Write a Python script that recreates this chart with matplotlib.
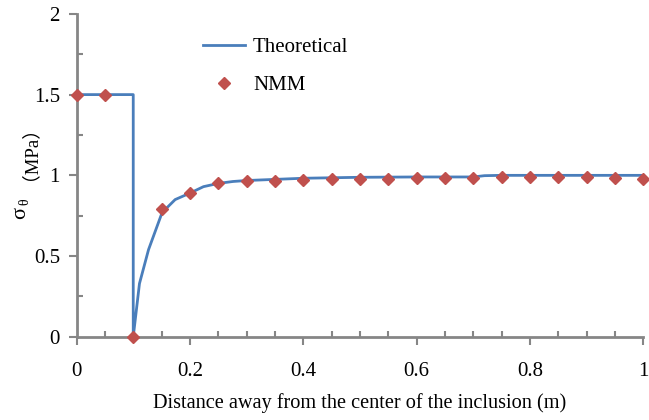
"""Hoop stress around a circular inclusion: theoretical curve vs NMM results."""

import matplotlib

matplotlib.use("Agg")
import matplotlib.pyplot as plt
from matplotlib.ticker import MultipleLocator

# theoretical solution
theory_x = [0.0, 0.1, 0.1, 0.111, 0.127, 0.151, 0.174, 0.2, 0.224, 0.25, 0.276,
            0.3, 0.35, 0.4, 0.45, 0.5, 0.6, 0.7, 0.72, 0.75, 0.8, 0.9, 1.0]
theory_y = [1.5, 1.5, 0.0, 0.33, 0.54, 0.77, 0.85, 0.89, 0.93, 0.95, 0.962,
            0.968, 0.975, 0.982, 0.985, 0.988, 0.99, 0.99, 0.998, 1.0, 1.0, 1.0, 1.0]

# NMM sample points every 0.05 m
nmm_x = [0.0, 0.05, 0.1, 0.15, 0.2, 0.25, 0.3, 0.35, 0.4, 0.45, 0.5,
         0.55, 0.6, 0.65, 0.7, 0.75, 0.8, 0.85, 0.9, 0.95, 1.0]
nmm_y = [1.5, 1.5, 0.0, 0.79, 0.89, 0.955, 0.962, 0.968, 0.972, 0.976, 0.98,
         0.98, 0.982, 0.982, 0.982, 0.99, 0.99, 0.99, 0.99, 0.985, 0.98]

x_ticks = [0, 0.2, 0.4, 0.6, 0.8, 1.0]
x_tick_labels = ["0", "0.2", "0.4", "0.6", "0.8", "1"]
y_ticks = [0, 0.5, 1.0, 1.5, 2.0]
y_tick_labels = ["0", "0.5", "1", "1.5", "2"]

LINE_BLUE = "#4A7EBB"
MARKER_RED = "#C0504D"
AXIS_GREY = "#868686"
W, H = 649, 420

# the full-width brackets in the y label fall back to the CJK family
plt.rcParams["font.family"] = ["Liberation Serif", "Noto Sans CJK SC", "DejaVu Sans"]

fig = plt.figure(figsize=(W / 100, H / 100), dpi=100)
ax = fig.add_axes([0.118, 0.198, 0.873, 0.769])

ax.plot(theory_x, theory_y, color=LINE_BLUE, lw=2.0, label="Theoretical", zorder=2)
ax.plot(nmm_x, nmm_y, ls="none", marker="D", ms=6, color=MARKER_RED,
        mec=MARKER_RED, label="NMM", zorder=3, clip_on=False)

ax.set_xlim(0, 1)
ax.set_ylim(0, 2)
ax.xaxis.set_minor_locator(MultipleLocator(0.05))
ax.yaxis.set_minor_locator(MultipleLocator(0.25))
ax.set_xticks(x_ticks, labels=x_tick_labels)
ax.set_yticks(y_ticks, labels=y_tick_labels)

for side in ("top", "right"):
    ax.spines[side].set_visible(False)
for side in ("left", "bottom"):
    ax.spines[side].set_color(AXIS_GREY)
    ax.spines[side].set_linewidth(2.0)

# Excel style: major ticks point out, minor ticks point in
ax.tick_params(which="major", direction="out", length=6, width=1.5,
               color=AXIS_GREY, labelsize=15)
ax.tick_params(which="minor", direction="in", length=4, width=1.5, color=AXIS_GREY)
ax.tick_params(axis="x", which="major", pad=12)
ax.tick_params(axis="y", which="major", pad=6)

ax.set_xlabel("Distance away from the center of the inclusion (m)", fontsize=14.6, labelpad=9)


def ylabel_piece(text, y_px, x_px, **kw):
    """Rotated piece of the y label; (x_px, y_px) is its baseline centre, from top-left."""
    fig.text(x_px / W, 1 - y_px / H, text, rotation=90, rotation_mode="anchor",
             ha="center", va="baseline", **kw)


# y label in pieces: upright sigma, theta subscript, then the bracketed unit
ylabel_piece("σ", 213, 25, fontsize=16)
ylabel_piece("θ", 202, 28, fontsize=10)
ylabel_piece("（MPa）", 144, 25, fontsize=13.5)

ax.legend(loc="upper left", bbox_to_anchor=(0.19, 0.985), frameon=False, fontsize=15,
          handlelength=2.0, handletextpad=0.4, labelspacing=0.9)

fig.savefig("out.png", dpi=100)
